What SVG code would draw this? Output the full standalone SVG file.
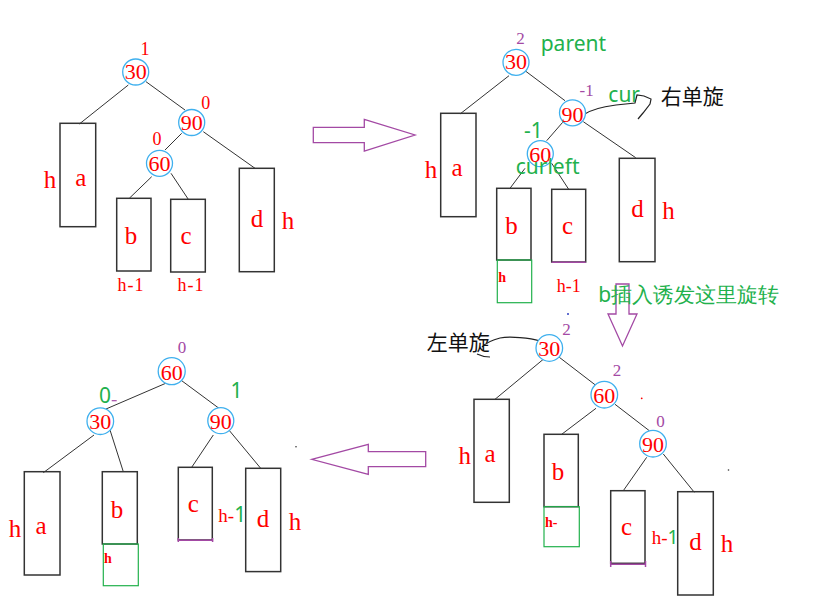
<svg xmlns="http://www.w3.org/2000/svg" width="815" height="607" viewBox="0 0 815 607">
<style>
.bx{fill:none;stroke:#333;stroke-width:1.5}
.gb{fill:none;stroke:#22b14c;stroke-width:1.2}
.pl{fill:none;stroke:#a349a4;stroke-width:1.5}
.cr{fill:#fff;stroke:#3fb0ee;stroke-width:1.3}
.ed{stroke:#333;stroke-width:1;fill:none}
.cv{stroke:#222;stroke-width:1.2;fill:none}
.ar{fill:#fff;stroke:#a349a4;stroke-width:1.3}
.n{font-family:"Liberation Serif",serif;font-size:22px;fill:#f00;text-anchor:middle}
.l{font-family:"Liberation Serif",serif;font-size:25px;fill:#f00;text-anchor:middle}
.s{font-family:"Liberation Serif",serif;font-size:18px;fill:#f00;text-anchor:middle}
.hs{font-family:"Liberation Serif",serif;font-size:19px;fill:#f00;text-anchor:start}
.t{font-family:"Liberation Serif",serif;font-size:14px;font-weight:bold;fill:#f00}
.p{font-family:"Liberation Serif",serif;font-size:17px;fill:#a349a4;text-anchor:middle}
.g{font-family:"Noto Sans",sans-serif;font-size:21px;fill:#22b14c}
.k{font-family:"Noto Sans CJK SC",sans-serif;font-size:21px;fill:#111}
</style>

<!-- arrows between panels -->
<g id="arrows">
<polygon class="ar" points="313.3,127.3 364.3,127.3 364.3,119.3 415,135 364.3,151 364.3,142.7 313.3,142.7"/>
<polygon class="ar" points="616,284 629,284 629,314 637,314 622.5,346 608,314 616,314"/>
<polygon class="ar" points="311.7,459.3 368.3,444.3 368.3,451.7 425.7,451.7 425.7,466.7 368.3,466.7 368.3,474.3"/>
</g>

<g id="connectors">
<!-- panel 1 -->
<line class="ed" x1="128.3" y1="85" x2="79.3" y2="124"/>
<line class="ed" x1="146" y1="81.7" x2="185" y2="110"/>
<line class="ed" x1="181.7" y1="133.3" x2="165" y2="150"/>
<line class="ed" x1="203.3" y1="131.7" x2="255" y2="168.3"/>
<line class="ed" x1="151.7" y1="176.7" x2="129.3" y2="198.3"/>
<line class="ed" x1="171" y1="173.3" x2="188.3" y2="199.3"/>
<!-- panel 2 -->
<line class="ed" x1="509" y1="75.7" x2="460" y2="114"/>
<line class="ed" x1="525" y1="70.7" x2="565" y2="100.7"/>
<line class="ed" x1="562.7" y1="122.3" x2="546.7" y2="140.7"/>
<line class="ed" x1="583.3" y1="121.7" x2="635.7" y2="157.7"/>
<line class="ed" x1="525" y1="168.3" x2="510" y2="188.3"/>
<line class="ed" x1="551.7" y1="163.3" x2="568.7" y2="189.3"/>
<!-- panel 3 -->
<line class="ed" x1="543.3" y1="359.3" x2="495" y2="399.3"/>
<line class="ed" x1="559.3" y1="357.3" x2="596.7" y2="386"/>
<line class="ed" x1="596" y1="408.3" x2="561.7" y2="434.3"/>
<line class="ed" x1="615" y1="404.3" x2="649.3" y2="430.7"/>
<line class="ed" x1="646.7" y1="457.3" x2="623.3" y2="490.7"/>
<line class="ed" x1="663.3" y1="454" x2="694.3" y2="492.3"/>
<!-- panel 4 -->
<line class="ed" x1="165.7" y1="383.3" x2="106" y2="409"/>
<line class="ed" x1="181.7" y1="380.7" x2="219" y2="408.3"/>
<line class="ed" x1="94" y1="435" x2="43.3" y2="472.7"/>
<line class="ed" x1="110" y1="430" x2="123.3" y2="471.7"/>
<line class="ed" x1="213.3" y1="435" x2="191.7" y2="467.3"/>
<line class="ed" x1="228.3" y1="429.3" x2="260.7" y2="468.3"/>
<!-- rotation marks -->
<path class="cv" d="M583,115 C590,110 600,107 616,105 L635,103 L637,95 L644,96 L651,99 L650,104 L643,113 L638,119"/>
<path class="cv" d="M540,341 C530,338 510,336 500,338 C492,340 486,343 482,347 M477,354 C481,356 486,357 490,357"/>
</g>

<!-- ===== Panel 1 ===== -->
<g id="p1-n30"><circle class="cr" cx="135.7" cy="72" r="13"/><text class="n" x="135.7" y="79.3">30</text><text class="s" x="145" y="55">1</text></g>
<g id="p1-n90"><circle class="cr" cx="191.7" cy="122.5" r="13"/><text class="n" x="191.7" y="130">90</text><text class="s" x="205.7" y="109">0</text></g>
<g id="p1-n60"><circle class="cr" cx="159.5" cy="163.3" r="13"/><text class="n" x="159.5" y="171">60</text><text class="s" x="157" y="145">0</text></g>
<g id="p1-a"><rect class="bx" x="60" y="123.3" width="35.7" height="103.4"/><text class="l" x="50" y="188">h</text><text class="l" x="80.8" y="186">a</text></g>
<g id="p1-b"><rect class="bx" x="116.7" y="198.3" width="34.3" height="72.7"/><text class="l" x="131" y="244">b</text><text class="s" x="131" y="290.7" letter-spacing="1">h-1</text></g>
<g id="p1-c"><rect class="bx" x="170.7" y="199.3" width="34.6" height="72.7"/><text class="l" x="186" y="244">c</text><text class="s" x="191" y="290.7" letter-spacing="1">h-1</text></g>
<g id="p1-d"><rect class="bx" x="239.3" y="168.3" width="35" height="103.4"/><text class="l" x="257" y="226.7">d</text><text class="l" x="288" y="229.3">h</text></g>

<!-- ===== Panel 2 ===== -->
<g id="p2-n30"><circle class="cr" cx="516" cy="62.3" r="13"/><text class="n" x="516" y="69.3">30</text><text class="p" x="520.5" y="44">2</text><text class="g" x="540.7" y="50.7">parent</text></g>
<g id="p2-n90"><circle class="cr" cx="572.5" cy="112.8" r="13"/><text class="n" x="572.5" y="121.7">90</text><text class="p" x="586.7" y="96">-1</text><text class="g" x="608.3" y="101.7">cur</text></g>
<g id="p2-rot"><text class="k" x="660.7" y="104">右单旋</text></g>
<g id="p2-n60"><circle class="cr" cx="540.3" cy="153.7" r="13"/><text class="n" x="540.3" y="161.7">60</text><text class="g" x="524" y="138" font-size="20">-1</text><text class="g" x="515.7" y="174">curleft</text></g>
<g id="p2-a"><rect class="bx" x="440.7" y="113.3" width="35.3" height="103.4"/><text class="l" x="431" y="178">h</text><text class="l" x="457" y="176">a</text></g>
<g id="p2-b"><rect class="bx" x="496.7" y="188.3" width="34.3" height="71.7"/><text class="l" x="511.5" y="234">b</text><rect class="gb" x="497.3" y="260" width="34.4" height="42.7"/><text class="t" x="498.3" y="281.7">h</text></g>
<g id="p2-c"><rect class="bx" x="551.7" y="189.3" width="34" height="72.7"/><line class="pl" x1="551.7" y1="262.3" x2="585.7" y2="262.3"/><text class="l" x="567.5" y="234">c</text><text class="s" x="568.7" y="291.7" font-size="21">h-1</text></g>
<g id="p2-d"><rect class="bx" x="619.3" y="158.3" width="35.7" height="103.4"/><text class="l" x="637.5" y="216.7">d</text><text class="l" x="668.5" y="219">h</text></g>
<g id="note"><text class="g" x="598.3" y="302">b插入诱发这里旋转</text></g>

<!-- ===== Panel 3 ===== -->
<g id="p3-rot"><text class="k" x="426.7" y="350">左单旋</text></g>
<g id="p3-n30"><circle class="cr" cx="549.3" cy="348" r="13.3"/><text class="n" x="549.3" y="356">30</text><text class="p" x="566.5" y="335">2</text><circle cx="568" cy="314" r="1" fill="#3040c0"/></g>
<g id="p3-n60"><circle class="cr" cx="604.3" cy="394.7" r="13.3"/><text class="n" x="604.3" y="402.7">60</text><text class="p" x="617" y="376">2</text><circle cx="641.7" cy="398.3" r="0.9" fill="#f00"/></g>
<g id="p3-n90"><circle class="cr" cx="653" cy="443.7" r="13.3"/><text class="n" x="653" y="451.7">90</text><text class="p" x="660.5" y="427">0</text></g>
<g id="p3-a"><rect class="bx" x="474" y="399.3" width="35.3" height="103"/><text class="l" x="464.7" y="464.3">h</text><text class="l" x="490" y="461.7">a</text></g>
<g id="p3-b"><rect class="bx" x="544" y="434.3" width="34.3" height="72.4"/><text class="l" x="558" y="480">b</text><rect class="gb" x="544" y="506.7" width="35.3" height="40"/><text class="t" x="545" y="526.7">h-</text></g>
<g id="p3-c"><rect class="bx" x="610.7" y="490.7" width="34.3" height="72.6"/><path class="pl" d="M610.7,561 V567 M610.7,564.3 H645.5 M645.5,561 V567"/><text class="l" x="626.5" y="535">c</text><text class="hs" x="651.7" y="544">h-<tspan fill="#22b14c" font-family="Noto Sans,sans-serif">1</tspan></text></g>
<g id="p3-d"><rect class="bx" x="677.7" y="491.7" width="35.6" height="103.3"/><text class="l" x="695.5" y="550">d</text><text class="l" x="727" y="551.7">h</text><circle cx="728.5" cy="470" r="0.8" fill="#333"/></g>

<!-- ===== Panel 4 ===== -->
<g id="p4-n60"><circle class="cr" cx="171.7" cy="371.2" r="13.5"/><text class="n" x="171.7" y="380">60</text><text class="p" x="182" y="353">0</text></g>
<g id="p4-n30"><circle class="cr" cx="100.3" cy="421.2" r="13.3"/><text class="n" x="100.3" y="429.3">30</text><text class="g" x="99" y="402.7" font-size="20">0</text><line x1="111.7" y1="400.7" x2="116.7" y2="400.7" stroke="#a349a4" stroke-width="1.2"/></g>
<g id="p4-n90"><circle class="cr" cx="220.8" cy="420.7" r="13"/><text class="n" x="220.8" y="429">90</text><text class="g" x="230.5" y="398.3" font-size="20">1</text></g>
<g id="p4-a"><rect class="bx" x="24.3" y="471.7" width="35.7" height="103.3"/><text class="l" x="15" y="537.3">h</text><text class="l" x="41" y="534.3">a</text></g>
<g id="p4-b"><rect class="bx" x="102.3" y="471.7" width="35" height="72.3"/><text class="l" x="117" y="518.3">b</text><rect class="gb" x="103.3" y="544" width="35" height="41.7"/><text class="t" x="104" y="563.3">h</text></g>
<g id="p4-c"><rect class="bx" x="178.3" y="467.3" width="34" height="72.7"/><path class="pl" d="M178.3,538 V542 M178.3,540.3 H212.6 M212.6,538 V542"/><text class="l" x="193.3" y="511.7">c</text><text class="hs" x="218.3" y="521.7">h-<tspan fill="#22b14c" font-family="Noto Sans,sans-serif" font-size="21">1</tspan></text></g>
<g id="p4-d"><rect class="bx" x="245.7" y="468.3" width="35" height="103.3"/><text class="l" x="263" y="526.7">d</text><text class="l" x="295" y="530">h</text><circle cx="296" cy="446.7" r="0.8" fill="#333"/></g>
</svg>
